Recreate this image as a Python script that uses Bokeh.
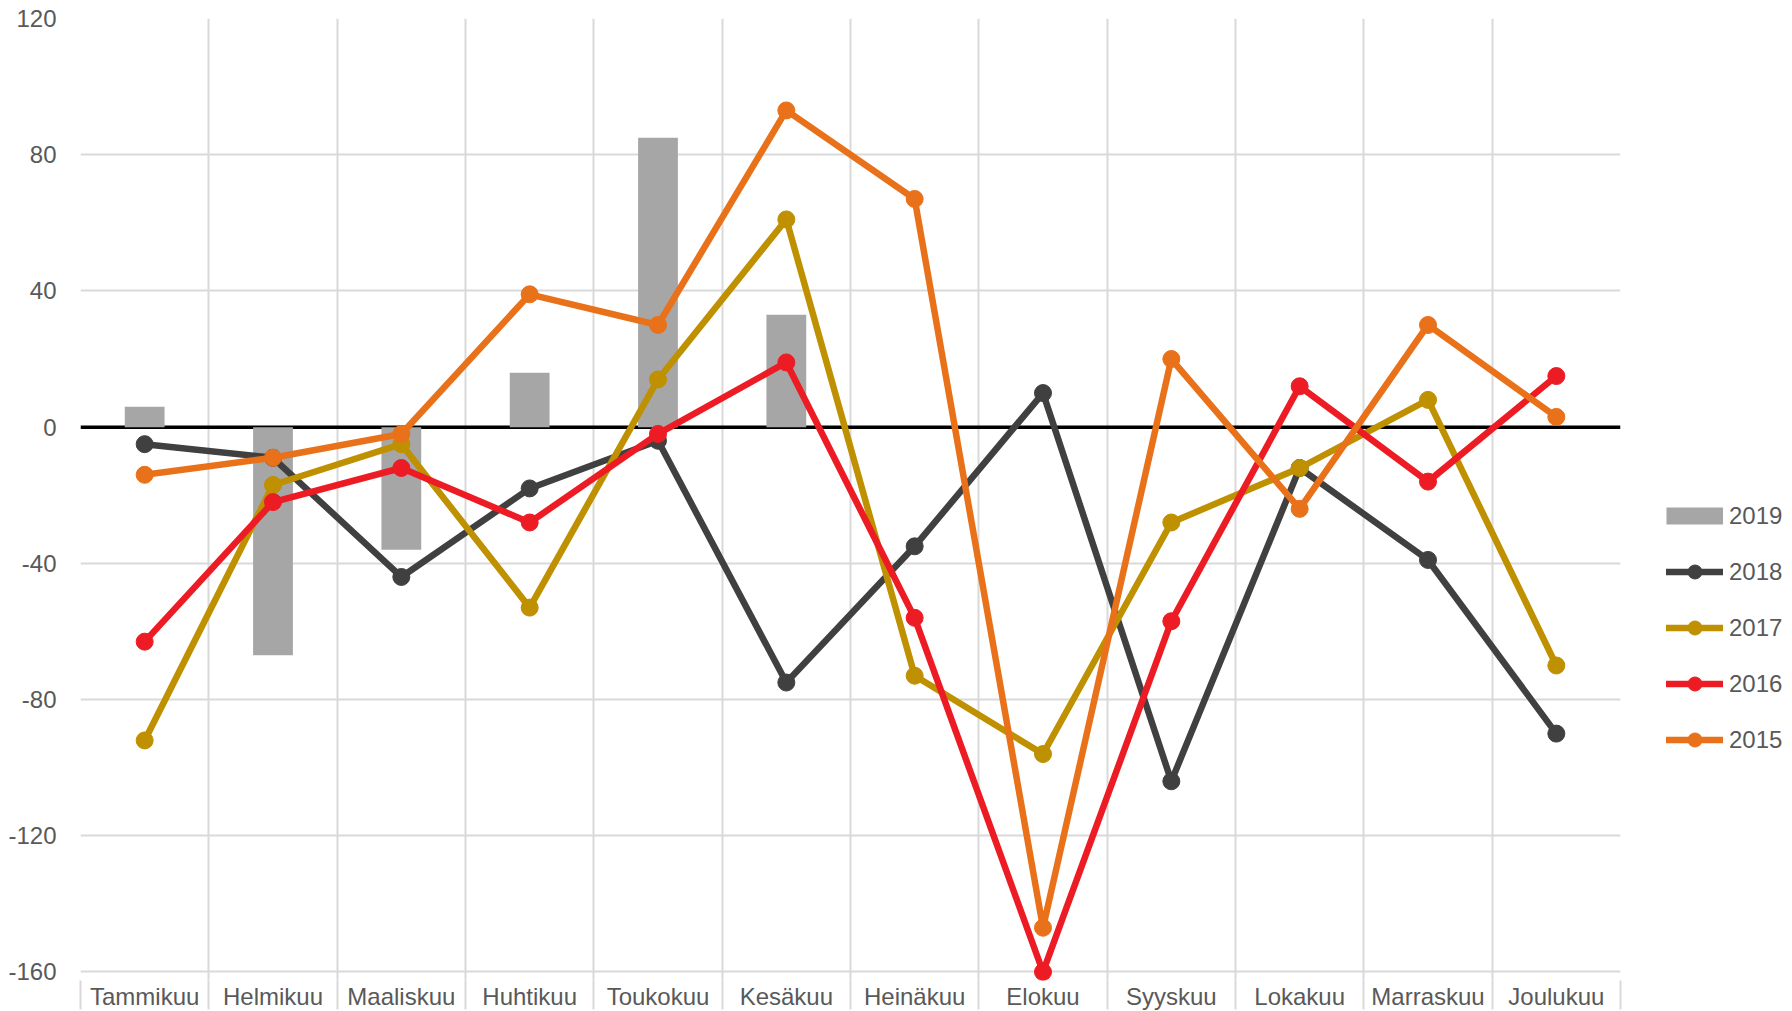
from bokeh.plotting import figure
from bokeh.models import FixedTicker, CustomJSTickFormatter, Span, Legend, LegendItem
from bokeh.embed import file_html
from bokeh.resources import INLINE

months = ["Tammikuu", "Helmikuu", "Maaliskuu", "Huhtikuu", "Toukokuu", "Kesäkuu",
          "Heinäkuu", "Elokuu", "Syyskuu", "Lokakuu", "Marraskuu", "Joulukuu"]
y2019 = [6, -67, -36, 16, 85, 33]
y2018 = [-5, -9, -44, -18, -4, -75, -35, 10, -104, -12, -39, -90]
y2017 = [-92, -17, -5, -53, 14, 61, -73, -96, -28, -12, 8, -70]
y2016 = [-63, -22, -12, -28, -2, 19, -56, -160, -57, 12, -16, 15]
y2015 = [-14, -9, -2, 39, 30, 93, 67, -147, 20, -24, 30, 3]
y_ticks = [-160, -120, -80, -40, 0, 40, 80, 120]

FONT = "Liberation Sans"
TXT = "#595959"
GRID = "#d9d9d9"

xc = [i + 0.5 for i in range(len(months))]
bounds = list(range(len(months) + 1))

p = figure(frame_width=1540, frame_height=962, x_range=(0, len(months)), y_range=(y_ticks[0] - 2.5, y_ticks[-1]),
           output_backend="svg", toolbar_location=None,
           min_border_left=80, min_border_top=18, min_border_right=170, min_border_bottom=0)
p.outline_line_color = None
p.background_fill_color = "white"

# grids
p.xgrid.ticker = FixedTicker(ticks=bounds)
p.ygrid.ticker = FixedTicker(ticks=y_ticks)
for g in (p.xgrid, p.ygrid):
    g.grid_line_color = GRID
    g.grid_line_width = 2

# x axis
xa = p.xaxis[0]
xa.ticker = FixedTicker(ticks=xc, minor_ticks=bounds)
xa.formatter = CustomJSTickFormatter(args=dict(names=months),
                                     code="return names[Math.floor(tick)];")
xa.axis_line_color = None
xa.major_tick_line_color = None
xa.major_tick_out = 0
xa.major_tick_in = 0
xa.minor_tick_in = 0
xa.minor_tick_out = 29
xa.minor_tick_line_color = GRID
xa.minor_tick_line_width = 2
xa.major_label_standoff = -27
xa.major_label_text_font = FONT
xa.major_label_text_font_size = "24px"
xa.major_label_text_color = TXT

# y axis
ya = p.yaxis[0]
ya.ticker = FixedTicker(ticks=y_ticks)
ya.formatter = CustomJSTickFormatter(code="return tick.toString();")
ya.axis_line_color = None
ya.major_tick_line_color = None
ya.minor_tick_line_color = None
ya.major_tick_out = 0
ya.major_tick_in = 0
ya.major_label_standoff = 24
ya.major_label_text_font = FONT
ya.major_label_text_font_size = "24px"
ya.major_label_text_color = TXT

# zero line
p.add_layout(Span(location=0, dimension="width", line_color="black", line_width=3.5, level="underlay"))

# bars 2019
bar_color = "#a6a6a7"
p.vbar(x=xc[:len(y2019)], top=y2019, bottom=0, width=0.31, fill_color=bar_color, line_color=None)
# legend swatch for the bars (hidden renderer, only used by the legend)
bar_proxy = p.line(x=xc[:len(y2019)], y=y2019, line_color=bar_color, line_width=17,
                   line_cap="butt", visible=False)

items = [LegendItem(label="2019", renderers=[bar_proxy])]
series = [("2018", y2018, "#404040"), ("2017", y2017, "#bf9000"),
          ("2016", y2016, "#ed1c24"), ("2015", y2015, "#e8711a")]
for name, vals, col in series:
    lr = p.line(x=xc, y=vals, line_color=col, line_width=6.5, line_join="round", line_cap="round")
    sr = p.scatter(x=xc, y=vals, size=17, fill_color=col, line_color=col)
    items.append(LegendItem(label=name, renderers=[lr, sr]))

legend = Legend(items=items, location=(46, 223), orientation="vertical",
                glyph_width=57, glyph_height=35, label_height=35, spacing=21,
                label_standoff=6, padding=0, margin=0,
                border_line_color=None, background_fill_alpha=0,
                inactive_fill_alpha=0,
                label_text_font=FONT, label_text_font_size="24px", label_text_color=TXT)
p.add_layout(legend, "right")

open("out.html", "w").write(file_html(p, INLINE))
